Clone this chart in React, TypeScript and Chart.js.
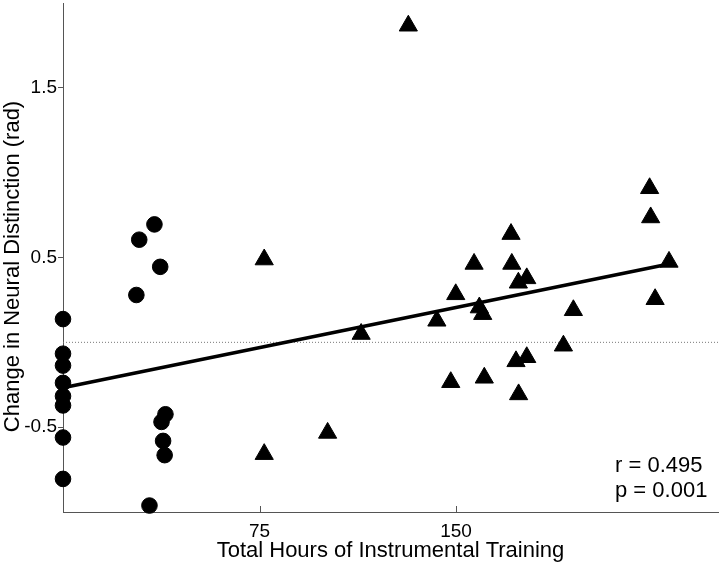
import React, { useEffect, useRef } from "react";
import { Chart, registerables } from "chart.js";

Chart.register(...registerables);

// Circles (left cluster)
const circleHours = [0, 0, 0, 0, 0, 0, 0, 0, 28.0, 29.1, 34.9, 37.1, 33.0, 39.1, 37.6, 38.2, 38.8];
const circleChange = [0.137, -0.067, -0.137, -0.239, -0.317, -0.372, -0.561, -0.805, 0.279, 0.605, 0.695, 0.445, -0.962, -0.424, -0.469, -0.581, -0.665];

// Triangles
const triangleHours = [171.0, 156.9, 171.3, 177.0, 173.8, 149.9, 158.9, 160.2, 142.7, 191.0, 177.0, 172.9, 160.8, 148.0, 173.9, 224.3, 231.3, 226.0, 194.8, 223.9, 131.8, 76.8, 113.8, 101.0, 76.8];
const triangleChange = [0.638, 0.462, 0.462, 0.377, 0.351, 0.283, 0.205, 0.166, 0.127, -0.02, -0.088, -0.112, -0.209, -0.235, -0.307, 0.736, 0.474, 0.254, 0.189, 0.908, 1.866, 0.488, 0.049, -0.534, -0.659];

// Regression line and zero reference
const fitHours = [0, 231.3];
const fitChange = [-0.268, 0.462];
const zeroHours = [0, 250];
const zeroChange = [0, 0];

const xTickValues = [75, 150];
const yTickValues = [-0.5, 0.5, 1.5];
const xRange = [0, 250];
const yRange = [-1, 2];

const xTitle = "Total Hours of Instrumental Training";
const yTitle = "Change in Neural Distinction (rad)";
const statLines = ["r = 0.495", "p = 0.001"];

const FONT = '"Liberation Sans", Arial, Helvetica, sans-serif';
const AXIS_COLOR = "#555555";

const toPoints = (xs: number[], ys: number[]) => xs.map((x, i) => ({ x, y: ys[i] }));

const zeroPadding = (scale: any) => {
  scale.paddingTop = 0;
  scale.paddingBottom = 0;
  scale.paddingLeft = 0;
  scale.paddingRight = 0;
};

const overlayPlugin = {
  id: "overlay",
  afterDraw(chart: any) {
    const ctx = chart.ctx;
    const area = chart.chartArea;
    const xs = chart.scales.x;
    ctx.save();
    // inward x ticks
    ctx.strokeStyle = AXIS_COLOR;
    ctx.lineWidth = 1;
    ctx.beginPath();
    xTickValues.forEach((v) => {
      const px = Math.round(xs.getPixelForValue(v)) + 0.5;
      ctx.moveTo(px, area.bottom);
      ctx.lineTo(px, area.bottom - 6);
    });
    ctx.stroke();
    // y title
    ctx.fillStyle = "#000";
    ctx.font = `22px ${FONT}`;
    ctx.textAlign = "center";
    ctx.textBaseline = "middle";
    ctx.translate(13, 266.5);
    ctx.rotate(-Math.PI / 2);
    ctx.fillText(yTitle, 0, 0);
    ctx.restore();
    // stats text
    ctx.save();
    ctx.fillStyle = "#000";
    ctx.font = `22px ${FONT}`;
    ctx.textAlign = "left";
    ctx.textBaseline = "alphabetic";
    ctx.fillText(statLines[0], 615, 471.5);
    ctx.fillText(statLines[1], 615, 496.5);
    ctx.restore();
  },
};

export default function App() {
  const canvasRef = useRef<HTMLCanvasElement | null>(null);

  useEffect(() => {
    if (!canvasRef.current) return;
    const chart = new Chart(canvasRef.current, {
      type: "scatter",
      data: {
        datasets: [
          {
            label: "fit",
            data: toPoints(fitHours, fitChange),
            showLine: true,
            borderColor: "#000",
            borderWidth: 3.5,
            pointRadius: 0,
            order: 0,
            clip: false,
          } as any,
          {
            label: "triangles",
            data: toPoints(triangleHours, triangleChange),
            pointStyle: "triangle",
            pointRadius: 10.5,
            backgroundColor: "#000",
            borderColor: "#000",
            borderWidth: 1,
            order: 1,
            clip: false,
          },
          {
            label: "circles",
            data: toPoints(circleHours, circleChange),
            pointStyle: "circle",
            pointRadius: 7.8,
            backgroundColor: "#000",
            borderColor: "#000",
            borderWidth: 1,
            order: 2,
            clip: false,
          },
          {
            label: "zero",
            data: toPoints(zeroHours, zeroChange),
            showLine: true,
            borderColor: "#777",
            borderWidth: 1,
            borderDash: [1, 2],
            pointRadius: 0,
            order: 3,
          } as any,
        ],
      },
      options: {
        animation: false,
        responsive: false,
        layout: { autoPadding: false, padding: { top: 3, right: 2, left: 0, bottom: 0 } },
        plugins: {
          legend: { display: false },
          tooltip: { enabled: false },
        },
        scales: {
          x: {
            type: "linear",
            min: xRange[0],
            max: xRange[1],
            afterBuildTicks: (scale: any) => {
              scale.ticks = xTickValues.map((v) => ({ value: v }));
            },
            afterFit: (scale: any) => {
              scale.height = 54;
              zeroPadding(scale);
            },
            grid: { drawOnChartArea: false, drawTicks: false },
            border: { display: true, color: AXIS_COLOR, width: 1 },
            ticks: {
              padding: 8,
              color: "#000",
              font: { family: FONT, size: 19 },
              callback: (v: any) => String(v),
            },
            title: {
              display: true,
              text: xTitle,
              color: "#000",
              font: { family: FONT, size: 22 },
              padding: { top: 0, bottom: 2 },
            },
          },
          y: {
            type: "linear",
            min: yRange[0],
            max: yRange[1],
            afterBuildTicks: (scale: any) => {
              scale.ticks = yTickValues.map((v) => ({ value: v }));
            },
            afterFit: (scale: any) => {
              scale.width = 63;
              zeroPadding(scale);
            },
            grid: { drawOnChartArea: false, drawTicks: true, tickLength: 5, color: AXIS_COLOR },
            border: { display: true, color: AXIS_COLOR, width: 1 },
            ticks: {
              padding: 1,
              color: "#000",
              font: { family: FONT, size: 19 },
              callback: (v: any) => String(v),
            },
          },
        },
      },
      plugins: [overlayPlugin],
    } as any);
    return () => chart.destroy();
  }, []);

  return (
    <div style={{ position: "absolute", left: 0, top: 0, width: 720, height: 566, background: "#fff" }}>
      <canvas ref={canvasRef} width={720} height={566} style={{ display: "block" }} />
    </div>
  );
}
